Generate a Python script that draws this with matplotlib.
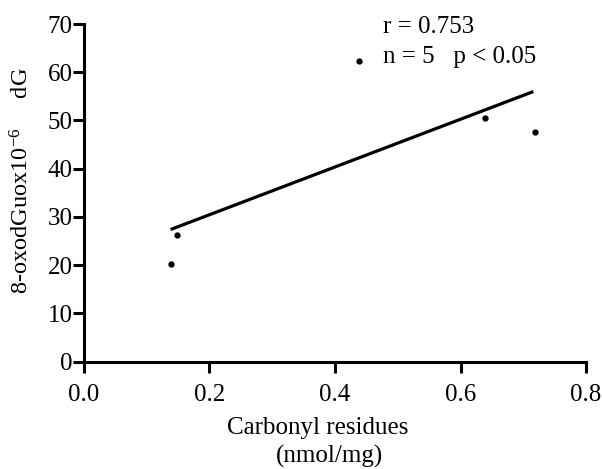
import matplotlib
matplotlib.use('Agg')
import matplotlib.pyplot as plt

plt.rcParams['font.family'] = ['Liberation Serif', 'DejaVu Serif']
plt.rcParams['mathtext.fontset'] = 'custom'
plt.rcParams['mathtext.rm'] = 'Liberation Serif'
plt.rcParams['mathtext.it'] = 'Liberation Serif:italic'

# data
carbonyl = [0.138, 0.148, 0.439, 0.639, 0.719]
oxodg = [20.2, 26.3, 62.3, 50.6, 47.7]
fit_x = [0.138, 0.716]
fit_y = [27.4, 56.0]
x_ticks = [0.0, 0.2, 0.4, 0.6, 0.8]
y_ticks = [0, 10, 20, 30, 40, 50, 60, 70]

fs = 18

fig = plt.figure(figsize=(6.02, 4.69), dpi=100)
ax = fig.add_axes([0.1395, 0.2288, 0.834, 0.72])

ax.plot(carbonyl, oxodg, 'o', color='black', markersize=3.5, clip_on=False)
ax.plot(fit_x, fit_y, '-', color='black', linewidth=2.3, solid_capstyle='butt')

ax.set_xlim(0, 0.8)
ax.set_ylim(0, 70)
ax.set_xticks(x_ticks)
ax.set_xticklabels(['%.1f' % t for t in x_ticks])
ax.set_yticks(y_ticks)

for s in ['top', 'right']:
    ax.spines[s].set_visible(False)
for s in ['left', 'bottom']:
    ax.spines[s].set_linewidth(2.2)
ax.tick_params(direction='out', length=8, width=2.2, labelsize=fs)
ax.tick_params(axis='x', pad=8)
ax.tick_params(axis='y', pad=0)

ax.text(0.476, 69.4, 'r = 0.753', fontsize=fs, va='center', ha='left')
ax.text(0.476, 63.2, 'n = 5   p < 0.05', fontsize=fs, va='center', ha='left')

ax.set_xlabel('Carbonyl residues', fontsize=fs)
ax.xaxis.set_label_coords(0.465, -0.163)
ax.text(0.49, -0.245, '(nmol/mg)', fontsize=fs, ha='center', va='top',
        transform=ax.transAxes)
ax.set_ylabel('8-oxodGuox10$^{-6}$     dG', fontsize=17.5)
ax.yaxis.set_label_coords(-0.1, 0.535)

fig.savefig('out.png', dpi=100)
